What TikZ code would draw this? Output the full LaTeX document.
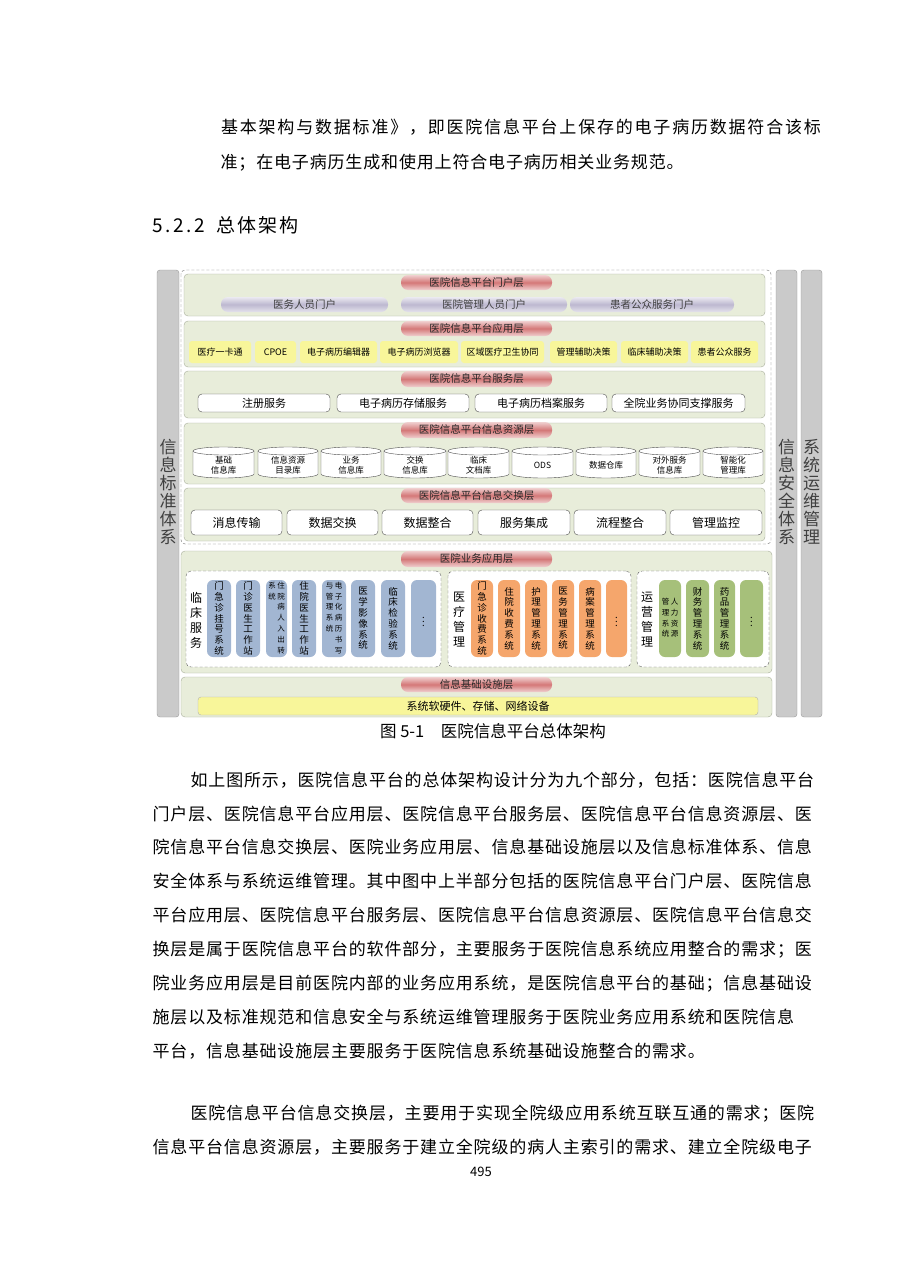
\documentclass[tikz,border=0pt]{standalone}
\usepackage{fontspec}
\setmainfont{Noto Sans CJK SC}
\usetikzlibrary{shapes.geometric}
\definecolor{layerfill}{HTML}{E8EDDA}
\definecolor{layerdraw}{HTML}{A8AE9C}
\definecolor{barfill}{HTML}{CACACA}
\definecolor{bardraw}{HTML}{9A9A9A}
\definecolor{pillred}{HTML}{D47878}
\definecolor{pilllav}{HTML}{BDB8D0}
\definecolor{yel}{HTML}{F8F69A}
\definecolor{blu}{HTML}{A2B6D2}
\definecolor{ora}{HTML}{F5A66C}
\definecolor{grn}{HTML}{A6C07A}
\newlength\cw
\setlength\cw{17.84pt}
\def\fw#1{\fwi#1\relax}
\def\fwi#1{\ifx#1\relax\else\makebox[\cw]{#1}\expandafter\fwi\fi}
\tikzset{
  base/.style={inner sep=0pt,outer sep=0pt},
  bar/.style={base,draw=bardraw,fill=barfill,rounded corners=3pt},
  layer/.style={base,draw=layerdraw,fill=layerfill,rounded corners=4pt},
  title/.style={base,top color=pillred!35!white,bottom color=pillred!35!white,middle color=pillred,rounded corners=7pt,font=\fontsize{10.5}{12}\selectfont,text=black!85},
  portal/.style={base,top color=pilllav!30!white,bottom color=pilllav!40!white,middle color=pilllav,rounded corners=7pt,font=\fontsize{10.5}{12}\selectfont,text=black!75},
  app/.style={base,fill=yel,rounded corners=3pt,font=\fontsize{9}{11}\selectfont},
  svc/.style={base,draw=black!70,fill=white,rounded corners=4pt,font=\fontsize{11}{13}\selectfont},
  xch/.style={base,draw=black!70,fill=white,rounded corners=4pt,font=\fontsize{12}{14}\selectfont},
  grp/.style={base,draw=black!60,dash pattern=on 3pt off 2pt,fill=white,rounded corners=5pt},
  vpill/.style={base,rounded corners=6pt,font=\fontsize{9.5}{10.8}\selectfont,align=center},
  vpill2/.style={vpill,font=\fontsize{7.5}{10.8}\selectfont},
  sidet/.style={align=center,font=\fontsize{17}{18}\selectfont,text=black!75},
  para/.style={anchor=base west,inner sep=0pt,font=\fontsize{17}{20}\selectfont}
}
\newcommand\bx[7]{\node[#6,minimum width={#4-#2},minimum height={#5-#3}] (#1) at ({(#2+#4)/2},{(#3+#5)/2}) {#7};}
\begin{document}
\begin{tikzpicture}[x=1pt,y=-1pt]
\useasboundingbox[fill=white] (0,0) rectangle (910,1287);
% body text
\node[para] (t1) at (220,134) {\setlength\cw{18.8pt}\fw{基本架构与数据标准》，即医院信息平台上保存的电子病历数据符合该标}};
\node[para] (t2) at (220,168) {\fw{准；在电子病历生成和使用上符合电子病历相关业务规范。}};
\node[para,font=\fontsize{19}{20}\selectfont] (h) at (152,232) {\setlength\cw{10.6pt}\fw{5.2.2}\hspace{10pt}\setlength\cw{21pt}\fw{总体架构}};
% side bars
\bx{lb}{157}{270}{179}{717}{bar}{}
\bx{rb1}{776}{270}{797}{717}{bar}{}
\bx{rb2}{801}{270}{822}{717}{bar}{}
\node[sidet] (lbt) at (168,492) {信\\息\\标\\准\\体\\系};
\node[sidet] (rbt1) at (786.5,492) {信\\息\\安\\全\\体\\系};
\node[sidet] (rbt2) at (811.5,492) {系\\统\\运\\维\\管\\理};
% dashed outer
\draw[black!55,dash pattern=on 3pt off 2pt,rounded corners=4pt] (181,270) rectangle (771,544);
% layer 1
\bx{L1}{184}{274}{765}{316}{layer}{}
\bx{T1}{401}{275}{552}{290}{title}{医院信息平台门户层}
\bx{p1}{221}{297}{388}{312}{portal}{医务人员门户}
\bx{p2}{401}{297}{567}{312}{portal}{医院管理人员门户}
\bx{p3}{570}{297}{734}{312}{portal}{患者公众服务门户}
% layer 2
\bx{L2}{184}{321}{765}{367}{layer}{}
\bx{T2}{401}{321}{552}{336}{title}{医院信息平台应用层}
\foreach \a/\b/\t [count=\i] in {189/251/医疗一卡通,255/296/CPOE,300/377/电子病历编辑器,380/458/电子病历浏览器,461/544/区域医疗卫生协同,550/617/管理辅助决策,621/688/临床辅助决策,691/758/患者公众服务}
  {\bx{a\i}{\a}{341}{\b}{363}{app}{\t}}
% layer 3
\bx{L3}{184}{371}{765}{418}{layer}{}
\bx{T3}{401}{371}{552}{387}{title}{医院信息平台服务层}
\foreach \a/\b/\t [count=\i] in {198/330/注册服务,337/469/电子病历存储服务,475/607/电子病历档案服务,612/745/全院业务协同支撑服务}
  {\bx{s\i}{\a}{394}{\b}{412}{svc}{\t}}
% layer 4
\bx{L4}{184}{423}{765}{484}{layer}{}
\bx{T4}{401}{422}{552}{438}{title}{医院信息平台信息资源层}
\foreach \a/\b/\t [count=\i] in {193/254/{基础\\信息库},258/318/{信息资源\\目录库},321/381/{业务\\信息库},384/446/{交换\\信息库},448/509/{临床\\文档库},512/573/ODS,576/636/数据仓库,639/700/{对外服务\\信息库},703/763/{智能化\\管理库}}
  {\pgfmathsetmacro\r{(\b-\a)/2}
   \draw[black!70,fill=white] (\a,451) -- (\a,474) arc[start angle=180,end angle=360,x radius=\r pt,y radius=4pt] -- (\b,451) arc[start angle=0,end angle=180,x radius=\r pt,y radius=4pt] -- cycle;
   \draw[black!70] (\a,451) arc[start angle=180,end angle=360,x radius=\r pt,y radius=4pt];
   \node[base,align=center,font=\fontsize{8.5}{10}\selectfont] (r\i) at ({(\a+\b)/2},465) {\t};}
% layer 5
\bx{L5}{184}{488}{765}{541}{layer}{}
\bx{T5}{401}{488}{552}{503}{title}{医院信息平台信息交换层}
\foreach \a/\b/\t [count=\i] in {191/282/消息传输,287/378/数据交换,382/473/数据整合,478/570/服务集成,574/666/流程整合,670/762/管理监控}
  {\bx{x\i}{\a}{510}{\b}{535}{xch}{\t}}
% layer 6
\bx{L6}{181}{551}{772}{673}{layer}{}
\bx{T6}{401}{551}{552}{567}{title}{医院业务应用层}
\bx{g1}{186}{571}{441}{667}{grp}{}
\bx{g2}{448}{571}{631}{667}{grp}{}
\bx{g3}{637}{571}{769}{667}{grp}{}
\node[base,align=center,font=\fontsize{12}{15}\selectfont] (g1t) at (196,620) {临\\床\\服\\务};
\node[base,align=center,font=\fontsize{12}{15}\selectfont] (g2t) at (459,620) {医\\疗\\管\\理};
\node[base,align=center,font=\fontsize{12}{15}\selectfont] (g3t) at (647,620) {运\\营\\管\\理};
\foreach \a/\b/\t [count=\i] in {207/231/{门\\急\\诊\\挂\\号\\系\\统},236/260/{门\\诊\\医\\生\\工\\作\\站},292/316/{住\\院\\医\\生\\工\\作\\站},351/375/{医\\学\\影\\像\\系\\统},381/405/{临\\床\\检\\验\\系\\统},411/436/{\vdots}}
  {\bx{b\i}{\a}{580}{\b}{657}{vpill,fill=blu}{\t}}
\bx{b7}{266}{580}{287}{657}{vpill2,fill=blu}{\begin{tabular}{@{}c@{\hspace{1.5pt}}c@{}}系&住\\统&院\\&病\\&人\\&入\\&出\\&转\end{tabular}}
\bx{b8}{322}{580}{346}{657}{vpill2,fill=blu}{\begin{tabular}{@{}c@{\hspace{1.5pt}}c@{}}与&电\\管&子\\理&化\\系&病\\统&历\\&书\\&写\end{tabular}}
\foreach \a/\b/\t [count=\i] in {471/493/{门\\急\\诊\\收\\费\\系\\统},498/520/{住\\院\\收\\费\\系\\统},525/547/{护\\理\\管\\理\\系\\统},552/574/{医\\务\\管\\理\\系\\统},579/601/{病\\案\\管\\理\\系\\统},606/627/{\vdots}}
  {\bx{o\i}{\a}{580}{\b}{657}{vpill,fill=ora}{\t}}
\foreach \a/\b/\t [count=\i] in {686/709/{财\\务\\管\\理\\系\\统},714/735/{药\\品\\管\\理\\系\\统},740/763/{\vdots}}
  {\bx{e\i}{\a}{580}{\b}{657}{vpill,fill=grn}{\t}}
\bx{e4}{659}{580}{681}{657}{vpill2,fill=grn}{\begin{tabular}{@{}c@{\hspace{1.5pt}}c@{}}管&人\\理&力\\系&资\\统&源\end{tabular}}
% layer 7
\bx{L7}{181}{677}{772}{717}{layer}{}
\bx{T7}{401}{677}{552}{692}{title}{信息基础设施层}
\bx{inf}{198}{697}{758}{715}{app,draw=black!30,font=\fontsize{11}{13}\selectfont}{系统软硬件、存储、网络设备}
% caption
\node[base,font=\fontsize{16.5}{18}\selectfont] (cap) at (493,731) {图 5-1\quad 医院信息平台总体架构};
% paragraph 1
\node[para] (p01) at (190,786) {\fw{如上图所示，医院信息平台的总体架构设计分为九个部分，包括：医院信息平台}};
\node[para] (p02) at (152,820) {\fw{门户层、医院信息平台应用层、医院信息平台服务层、医院信息平台信息资源层、医}};
\node[para] (p03) at (152,853) {\fw{院信息平台信息交换层、医院业务应用层、信息基础设施层以及信息标准体系、信息}};
\node[para] (p04) at (152,887) {\fw{安全体系与系统运维管理。其中图中上半部分包括的医院信息平台门户层、医院信息}};
\node[para] (p05) at (152,921) {\fw{平台应用层、医院信息平台服务层、医院信息平台信息资源层、医院信息平台信息交}};
\node[para] (p06) at (152,955) {\fw{换层是属于医院信息平台的软件部分，主要服务于医院信息系统应用整合的需求；医}};
\node[para] (p07) at (152,989) {\fw{院业务应用层是目前医院内部的业务应用系统，是医院信息平台的基础；信息基础设}};
\node[para] (p08) at (152,1023) {\fw{施层以及标准规范和信息安全与系统运维管理服务于医院业务应用系统和医院信息}};
\node[para] (p09) at (152,1057) {\fw{平台，信息基础设施层主要服务于医院信息系统基础设施整合的需求。}};
\node[para] (p10) at (190,1119) {\fw{医院信息平台信息交换层，主要用于实现全院级应用系统互联互通的需求；医院}};
\node[para] (p11) at (152,1153) {\fw{信息平台信息资源层，主要服务于建立全院级的病人主索引的需求、建立全院级电子}};
\node[base,font=\fontsize{13}{14}\selectfont] (pg) at (481,1172) {495};
\end{tikzpicture}
\end{document}
